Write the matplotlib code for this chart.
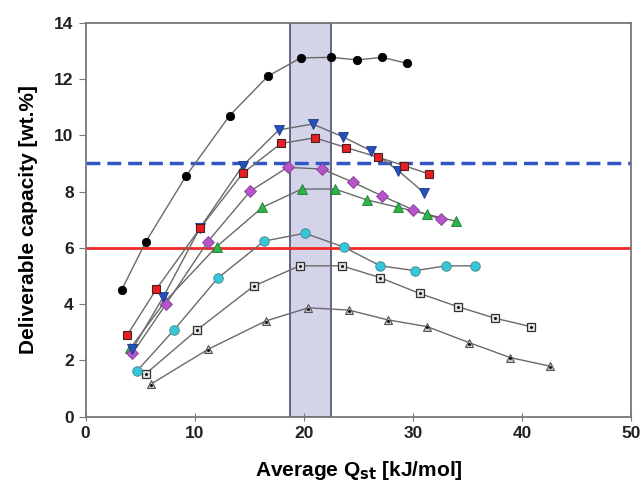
import matplotlib
matplotlib.use("Agg")
import matplotlib.pyplot as plt
from matplotlib.patches import Rectangle

plt.rcParams['font.family'] = ['Liberation Sans', 'DejaVu Sans']

black_x = [3.3, 5.5, 9.2, 13.2, 16.7, 19.7, 22.5, 24.9, 27.2, 29.4]
black_y = [4.5, 6.2, 8.55, 10.7, 12.1, 12.75, 12.77, 12.68, 12.77, 12.56]

red_x = [3.8, 6.5, 10.5, 14.4, 17.9, 21.0, 23.9, 26.8, 29.2, 31.5]
red_y = [2.89, 4.54, 6.7, 8.65, 9.71, 9.91, 9.56, 9.22, 8.92, 8.62]

blue_x = [4.3, 7.1, 10.5, 14.4, 17.7, 20.8, 23.55, 26.15, 28.65, 31.0]
blue_y = [2.4, 4.24, 6.72, 8.92, 10.19, 10.40, 9.95, 9.45, 8.74, 7.96]

green_x = [4.1, 7.3, 12.0, 16.2, 19.8, 22.85, 25.8, 28.65, 31.3, 33.9]
green_y = [2.43, 4.1, 6.04, 7.44, 8.09, 8.09, 7.70, 7.44, 7.19, 6.95]

purple_x = [4.3, 7.35, 11.2, 15.1, 18.5, 21.7, 24.5, 27.2, 30.0, 32.6]
purple_y = [2.25, 3.99, 6.22, 8.02, 8.86, 8.80, 8.33, 7.84, 7.35, 7.01]

cyan_x = [4.7, 8.1, 12.1, 16.35, 20.1, 23.7, 27.0, 30.2, 33.0, 35.7]
cyan_y = [1.62, 3.08, 4.92, 6.24, 6.52, 6.02, 5.36, 5.19, 5.36, 5.36]

gsq_x = [5.5, 10.2, 15.4, 19.6, 23.5, 27.0, 30.6, 34.1, 37.5, 40.8]
gsq_y = [1.52, 3.08, 4.64, 5.36, 5.36, 4.94, 4.38, 3.91, 3.50, 3.20]

gtri_x = [6.0, 11.25, 16.5, 20.4, 24.1, 27.7, 31.3, 35.15, 38.9, 42.5]
gtri_y = [1.16, 2.40, 3.40, 3.87, 3.79, 3.44, 3.20, 2.63, 2.10, 1.80]

band = (18.7, 22.5)
h_dashed = 9.0
h_solid = 6.0

x_ticks = [0, 10, 20, 30, 40, 50]
y_ticks = [0, 2, 4, 6, 8, 10, 12, 14]

fig = plt.figure(figsize=(6.43, 4.9), dpi=100)
ax = fig.add_axes([0.133, 0.1496, 0.849, 0.804])
ax.set_xlim(0, 50)
ax.set_ylim(0, 14)

ax.add_patch(Rectangle((band[0], 0), band[1] - band[0], 14,
                       facecolor='#d3d3ea', edgecolor='#5a5a78', lw=1.3, zorder=1))

ax.axhline(h_dashed, color='#3355c4', lw=2.5, ls=(0, (4, 2)), zorder=2)
ax.axhline(h_solid, color='#f02828', lw=2.0, zorder=2)

line_kw = dict(color='#6a6a6a', lw=1.0, zorder=3)

series = [
    (gtri_x, gtri_y, dict(marker='^', ms=6, mfc='#c8c8c8', mec='#555555', mew=0.8)),
    (gsq_x, gsq_y, dict(marker='s', ms=6, mfc='#e4e4e4', mec='#333333', mew=0.9)),
    (cyan_x, cyan_y, dict(marker='o', ms=6.8, mfc='#35c8d8', mec='#4a8a9a', mew=0.7)),
    (green_x, green_y, dict(marker='^', ms=6.8, mfc='#2db54a', mec='#1c7a30', mew=0.6)),
    (purple_x, purple_y, dict(marker='D', ms=6, mfc='#b455c8', mec='#8a3a9a', mew=0.6)),
    (blue_x, blue_y, dict(marker='v', ms=6.8, mfc='#2550b8', mec='#1a3a8a', mew=0.6)),
    (red_x, red_y, dict(marker='s', ms=6.2, mfc='#e81e22', mec='#4a2020', mew=0.8)),
    (black_x, black_y, dict(marker='o', ms=6, mfc='#000000', mec='#000000', mew=0.6)),
]
for i, (xs, ys, mk) in enumerate(series):
    ax.plot(xs, ys, **line_kw)
    ax.plot(xs, ys, ls='none', zorder=4 + i, **mk)

# center dots on grey markers
ax.plot(gsq_x, gsq_y, ls='none', marker='.', ms=2.3, color='#111111', zorder=20)
ax.plot(gtri_x, [y - 0.03 for y in gtri_y], ls='none', marker='.', ms=2.3, color='#111111', zorder=20)

ax.set_xticks(x_ticks)
ax.set_yticks(y_ticks)
for lab in ax.get_xticklabels() + ax.get_yticklabels():
    lab.set_fontweight('bold')
    lab.set_fontsize(12.5)
    lab.set_color('#222222')
ax.tick_params(axis='x', direction='inout', length=6, color='#777777')
ax.tick_params(axis='y', direction='out', length=5, color='#777777')
for s in ax.spines.values():
    s.set_color('#777777')
    s.set_linewidth(1.3)

ax.set_xlabel('Average Q$_{\\mathbf{st}}$ [kJ/mol]', fontsize=15, fontweight='bold', labelpad=13)
ax.set_ylabel('Deliverable capacity [wt.%]', fontsize=15, fontweight='bold', labelpad=12)

fig.savefig('out.png', dpi=100)
